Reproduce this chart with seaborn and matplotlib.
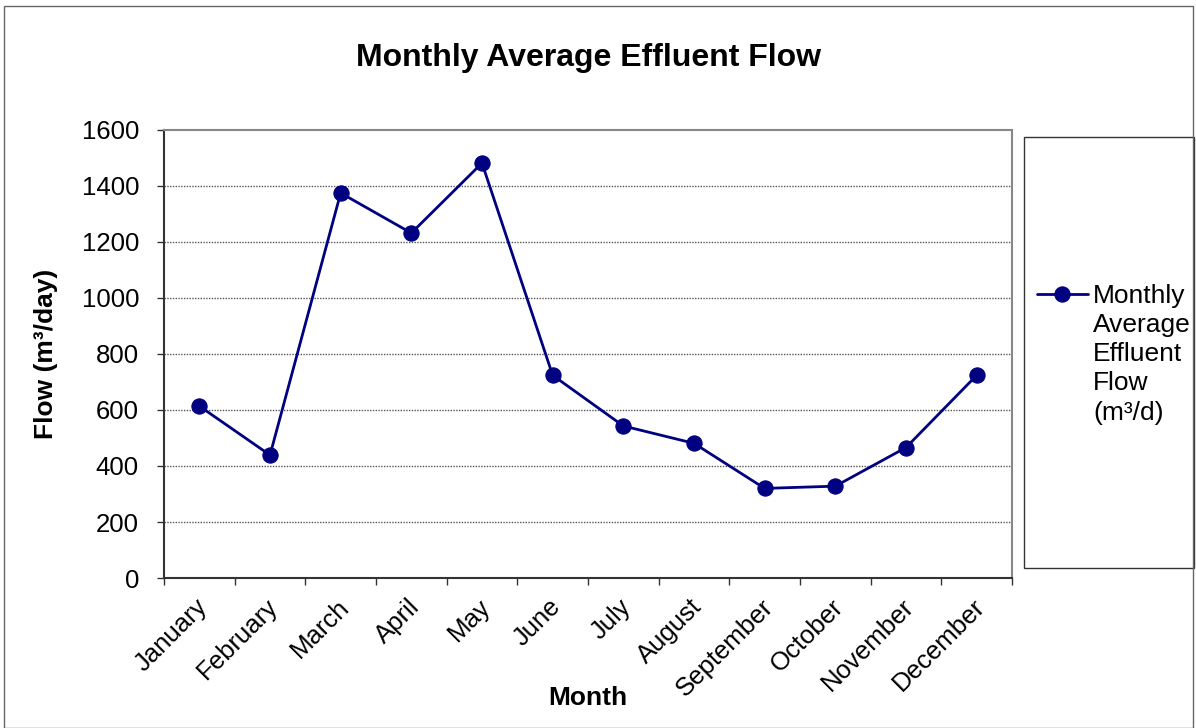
import numpy as np
import pandas as pd
import matplotlib
matplotlib.use("Agg")
import matplotlib.pyplot as plt
from matplotlib.patches import Rectangle
from matplotlib.transforms import ScaledTranslation
import seaborn as sns

months = ["January", "February", "March", "April", "May", "June", "July",
          "August", "September", "October", "November", "December"]
flow = [614, 439, 1375, 1232, 1482, 724, 543, 481, 320, 328, 466, 724]
yticks = [0, 200, 400, 600, 800, 1000, 1200, 1400, 1600]
series_name = "Monthly\nAverage\nEffluent\nFlow\n(m³/d)"

sns.set_style("white")
plt.rcParams['font.family'] = ['Liberation Sans', 'DejaVu Sans']
for k in ["text.color", "axes.labelcolor", "xtick.color", "ytick.color"]:
    plt.rcParams[k] = "black"

df = pd.DataFrame({"Month": months, "Flow": flow, "pos": np.arange(len(months))})

fig = plt.figure(figsize=(11.96, 7.28), dpi=100)
ax = fig.add_axes([164/1196, 1 - 578/728, (1012-164)/1196, (578-130)/728])

sns.lineplot(data=df, x="pos", y="Flow", ax=ax, color="#000080", marker="o",
             markersize=11, markeredgecolor="#000080", linewidth=2,
             label=series_name, legend=False)

ax.set_xlim(-0.5, len(months) - 0.5)
ax.set_ylim(0, 1600)
ax.set_yticks(yticks)
ax.set_yticklabels([str(v) for v in yticks], fontsize=18.5)
ax.set_xticks(np.arange(len(months)))
ax.set_xticklabels(months, rotation=45, ha="right", va="top",
                   rotation_mode="anchor", fontsize=18.5)
ax.set_xticks(np.arange(-0.5, len(months)), minor=True)
ax.tick_params(axis="x", which="major", length=0, pad=12)
ax.tick_params(axis="x", which="minor", length=5, width=1, color="#333333",
               direction="out", bottom=True)
ax.tick_params(axis="y", length=5, width=1, color="#333333", direction="out",
               left=True, pad=13)
for lab in ax.get_xticklabels():
    lab.set_transform(lab.get_transform() + ScaledTranslation(-4/100, 0, fig.dpi_scale_trans))

for y in yticks[1:-1]:
    ax.axhline(y, color="#555555", linestyle=(0, (1, 1)), linewidth=1, zorder=0)

for side in ["top", "right"]:
    ax.spines[side].set_color("#888888")
    ax.spines[side].set_linewidth(1.5)
for side in ["left", "bottom"]:
    ax.spines[side].set_color("#333333")
    ax.spines[side].set_linewidth(1.5)

ax.set_xlabel("Month", fontsize=19, fontweight="bold", va="center")
ax.xaxis.set_label_coords(0.5, (578 - 698) / 448)
ax.set_ylabel("Flow (m³/day)", fontsize=19, fontweight="bold", va="center")
ax.yaxis.set_label_coords((46 - 164) / 848, 0.5)
fig.text(588/1196, 1 - 58/728, "Monthly Average Effluent Flow", fontsize=23,
         fontweight="bold", ha="center", va="center")

# legend box
fig.patches.append(Rectangle((1024/1196, 1 - 568/728), (1194-1024)/1196, (568-137)/728,
                             transform=fig.transFigure, facecolor="white",
                             edgecolor="#333333", linewidth=1))
handles, labels = ax.get_legend_handles_labels()
leg = fig.legend(handles, labels, loc="upper left", bbox_to_anchor=(1037/1196, 1 - 284/728),
                 frameon=False, fontsize=19, handlelength=1.93, handletextpad=0.19,
                 borderaxespad=0, borderpad=0)
for t in leg.get_texts():
    t.set_linespacing(1.27)
fig.canvas.draw()
for ln in leg.get_lines():
    ln.set_ydata(np.asarray(ln.get_ydata(), dtype=float) + 43.5)

# outer border
fig.patches.append(Rectangle((4/1196, 0), (1193-4)/1196, 1 - 6/728,
                             transform=fig.transFigure, fill=False,
                             edgecolor="#666666", linewidth=1))

fig.savefig("out.png", dpi=100)
